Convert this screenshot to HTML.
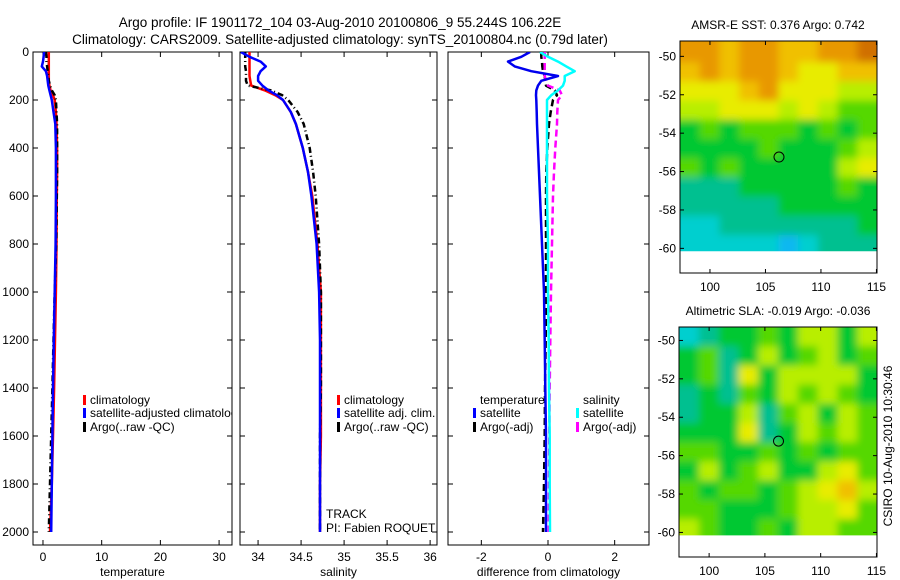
<!DOCTYPE html>
<html><head><meta charset="utf-8"><style>
body{margin:0;background:#fff;}
svg{display:block;font-family:"Liberation Sans",sans-serif;}
</style></head><body>
<svg id="c" width="900" height="580" xmlns="http://www.w3.org/2000/svg">
<defs><filter id="soft" x="-5%" y="-5%" width="110%" height="110%"><feGaussianBlur stdDeviation="4"/></filter></defs>
<text x="340" y="27" font-size="13.5" text-anchor="middle">Argo profile: IF 1901172_104 03-Aug-2010 20100806_9 55.244S 106.22E</text>
<text x="340" y="44" font-size="13.5" text-anchor="middle">Climatology: CARS2009. Satellite-adjusted climatology: synTS_20100804.nc (0.79d later)</text>
<text x="778" y="29" font-size="12" text-anchor="middle">AMSR-E SST: 0.376 Argo: 0.742</text>
<text x="778" y="315" font-size="12" text-anchor="middle">Altimetric SLA: -0.019 Argo: -0.036</text>
<text transform="translate(892,446) rotate(-90)" font-size="12" text-anchor="middle">CSIRO 10-Aug-2010 10:30:46</text>
</svg>
<script>
// ---- data ----
const depths=[0,20,40,60,80,100,120,140,160,180,200,250,300,400,500,600,800,1000,1200,1400,1600,1800,2000];
const tempClim=[1.0,1.0,1.0,1.0,1.0,1.0,1.0,1.1,1.3,1.7,2.0,2.2,2.3,2.4,2.4,2.35,2.3,2.2,2.05,1.9,1.7,1.5,1.2];
const tempArgo=[0.5,0.6,0.6,0.7,0.8,0.9,1.0,1.2,1.5,2.0,2.2,2.3,2.4,2.4,2.4,2.35,2.25,2.0,1.8,1.6,1.4,1.2,1.0];
const tempSat=[0.2,0.1,0.0,-0.2,0.5,0.7,0.8,0.9,1.1,1.3,1.5,1.8,2.1,2.2,2.2,2.2,2.15,2.0,1.85,1.7,1.6,1.5,1.4];
const salClim=[33.9,33.9,33.9,33.9,33.9,33.9,33.91,33.92,34.08,34.2,34.29,34.38,34.44,34.52,34.58,34.63,34.69,34.73,34.73,34.73,34.73,34.72,34.72];
const salArgo=[33.85,33.85,33.85,33.85,33.86,33.86,33.86,33.88,34.15,34.28,34.35,34.46,34.53,34.6,34.64,34.67,34.71,34.73,34.73,34.73,34.72,34.72,34.72];
const salSat=[33.8,33.9,34.03,34.09,34.03,34.0,34.0,34.05,34.12,34.22,34.29,34.38,34.44,34.52,34.58,34.62,34.68,34.71,34.72,34.72,34.72,34.72,34.72];
const diffTSat=[-0.54,-0.8,-1.2,-1.0,-0.5,0.3,-0.2,-0.3,-0.35,-0.36,-0.35,-0.34,-0.33,-0.3,-0.27,-0.24,-0.18,-0.12,-0.1,-0.08,-0.06,-0.06,-0.06];
const diffSSat=[-0.24,0.0,0.3,0.55,0.8,0.5,0.5,0.45,0.3,0.1,-0.03,-0.03,-0.03,-0.03,-0.03,-0.03,0.0,0.0,0.02,0.03,0.05,0.05,0.06];
const diffTArgo=[-0.2,-0.2,-0.18,-0.17,-0.15,-0.1,-0.08,-0.06,0.2,0.27,0.15,0.08,0.03,-0.02,-0.05,-0.06,-0.06,-0.06,-0.07,-0.09,-0.1,-0.12,-0.15];
const diffSArgo=[-0.1,-0.1,-0.1,-0.1,-0.1,-0.1,-0.05,0.0,0.35,0.42,0.3,0.28,0.27,0.22,0.18,0.15,0.12,0.09,0.07,0.05,0.04,0.03,0.02];
const depthTicks=[0,200,400,600,800,1000,1200,1400,1600,1800,2000];
const tempTicks=[0,10,20,30];
const salTicks=[34,34.5,35,35.5,36];
const salTickLabels=["34","34.5","35","35.5","36"];
const diffTicks=[-2,0,2];
const latTicks=[-50,-52,-54,-56,-58,-60];
const lonTicks=[100,105,110,115];
const sstGrid=[
[8,8,7,8,8,7,7,8,8,9],
[7,8,7,8,8,7,6,6,7,7],
[6,6,6,7,8,6,6,6,5,5],
[5,5,6,6,6,5,6,5,4,4],
[3,4,3,4,4,4,3,4,3,4],
[3,3,3,3,4,3,3,3,4,5],
[4,3,4,3,3,3,3,3,5,6],
[2,2,2,3,3,3,3,3,4,3],
[2,2,2,2,2,3,3,3,3,3],
[1,1,2,2,2,2,2,2,2,3],
[1,1,1,1,1,0,1,2,2,2]];
const slaGrid=[
[1,2,3,3,4,3,5,5,3,5],
[3,4,2,3,5,3,4,5,3,4],
[3,4,2,6,3,5,5,5,5,3],
[2,3,2,4,3,5,4,5,4,3],
[2,3,3,5,2,4,5,3,5,4],
[3,3,3,6,2,3,5,4,5,4],
[4,4,3,3,4,3,4,3,4,4],
[3,5,3,4,5,3,3,5,6,4],
[4,3,4,4,3,4,5,6,7,5],
[4,4,3,3,3,4,5,5,6,4],
[5,4,3,3,4,3,5,5,4,4]];
const argoLon=106.22, argoLat=-55.244;
const palette=["#10b8f0","#00cfcf","#00c090","#00c830","#55d800","#b8ee00","#e8ec00","#f0c000","#e89800","#d07000"];

// ---- drawing ----
const svg=document.getElementById('c');
const NS='http://www.w3.org/2000/svg';
function mk(tag,attrs,parent){const e=document.createElementNS(NS,tag);for(const k in attrs)e.setAttribute(k,attrs[k]);(parent||svg).appendChild(e);return e;}
const yTop=52,yBot=545;
function yD(d){return 52+d*0.24;}
function axisPanel(name,x0,x1,xmin,xmax,ticks,labels,xlabel,showY){
  const g=mk('g',{});
  
  
  const xs=v=>x0+(v-xmin)/(xmax-xmin)*(x1-x0);
  const clipId=name+'-clip';
  const cp=mk('clipPath',{id:clipId},g);mk('rect',{x:x0,y:yTop,width:x1-x0,height:yBot-yTop},cp);
  ticks.forEach((t,i)=>{
    const x=xs(t);
    mk('line',{x1:x,y1:yBot,x2:x,y2:yBot-5,stroke:'#000'},g);
    mk('line',{x1:x,y1:yTop,x2:x,y2:yTop+5,stroke:'#000'},g);
    const tx=mk('text',{x:x,y:yBot+16,'font-size':12,'text-anchor':'middle'},g);
    tx.textContent=labels[i];
    
    
  });
  depthTicks.forEach(d=>{
    const y=yD(d);
    mk('line',{x1:x0,y1:y,x2:x0+5,y2:y,stroke:'#000'},g);
    mk('line',{x1:x1,y1:y,x2:x1-5,y2:y,stroke:'#000'},g);
    if(showY){const tx=mk('text',{x:x0-4,y:y+4,'font-size':12,'text-anchor':'end'},g);tx.textContent=d;
      
      }
  });
  mk('rect',{x:x0,y:yTop,width:x1-x0,height:yBot-yTop,fill:'none',stroke:'#000'},g);
  const xl=mk('text',{x:(x0+x1)/2,y:yBot+31,'font-size':12,'text-anchor':'middle'},g);xl.textContent=xlabel;
  
  
  return {g,xs,clipId};
}
function line(P,vals,color,w,dash,name){
  const pts=vals.map((v,i)=>P.xs(v).toFixed(1)+','+yD(depths[i]).toFixed(1)).join(' ');
  const a={points:pts,fill:'none',stroke:color,'stroke-width':w,'clip-path':'url(#'+P.clipId+')','stroke-linejoin':'round'};
  if(dash)a['stroke-dasharray']=dash;
  const l=mk('polyline',a,P.g);
  
  
}
function legend(P,x,y,color,txt,name){
  mk('rect',{x:x-3,y:y-9,width:3,height:10,fill:color},P.g);
  const t=mk('text',{x:x+4,y:y,'font-size':12,'clip-path':'url(#'+P.clipId+')'},P.g);t.textContent=txt;
  
  
}
const P1=axisPanel('temperature-panel',33,232,-1.7,32.2,tempTicks,tempTicks.map(String),'temperature',true);
line(P1,tempClim,'#f00',2.5,null,'temp-climatology-line');
line(P1,tempArgo,'#000',2.5,'6,3,1,3','temp-argo-line');
line(P1,tempSat,'#00f',2.5,null,'temp-satellite-line');
legend(P1,86,404,'#f00','climatology','legend-climatology');
legend(P1,86,417,'#00f','satellite-adjusted climatology','legend-satellite');
legend(P1,86,431,'#000','Argo(..raw -QC)','legend-argo');
const P2=axisPanel('salinity-panel',240,437,33.79,36.08,salTicks,salTickLabels,'salinity',false);
line(P2,salClim,'#f00',2.5,null,'sal-climatology-line');
line(P2,salArgo,'#000',2.5,'6,3,1,3','sal-argo-line');
line(P2,salSat,'#00f',2.5,null,'sal-satellite-line');
legend(P2,340,404,'#f00','climatology','legend-climatology');
legend(P2,340,417,'#00f','satellite adj. clim.','legend-satellite');
legend(P2,340,431,'#000','Argo(..raw -QC)','legend-argo');
let t=mk('text',{x:326,y:518,'font-size':12},P2.g);t.textContent='TRACK';


t=mk('text',{x:326,y:532,'font-size':12},P2.g);t.textContent='PI: Fabien ROQUET';


const P3=axisPanel('difference-panel',448,649,-3.0,3.03,diffTicks,diffTicks.map(String),'difference from climatology',false);
line(P3,diffTArgo,'#000',2.5,'7,4','diff-temp-argo-line');
line(P3,diffSArgo,'#f0f',2.5,'7,4','diff-sal-argo-line');
line(P3,diffSSat,'#0ff',2.5,null,'diff-sal-satellite-line');
line(P3,diffTSat,'#00e',2.5,null,'diff-temp-satellite-line');
t=mk('text',{x:480,y:404,'font-size':12},P3.g);t.textContent='temperature';


t=mk('text',{x:583,y:404,'font-size':12},P3.g);t.textContent='salinity';


legend(P3,476,417,'#00f','satellite','legend-temp-satellite');
legend(P3,476,431,'#000','Argo(-adj)','legend-temp-argo');
legend(P3,579,417,'#0ff','satellite','legend-sal-satellite');
legend(P3,579,431,'#f0f','Argo(-adj)','legend-sal-argo');

function map(name,x0,x1,y0,y1,latTop,grid){
  const g=mk('g',{});
  
  
  const lonMin=97.3,lonMax=115.05;
  const xs=v=>x0+(v-lonMin)/(lonMax-lonMin)*(x1-x0);
  const ys=v=>y0+(latTop-v)*19.2;
  const nC=grid[0].length;
  const dataBot=ys(-60.15);
  const clipId=name+'-clip';
  const cp=mk('clipPath',{id:clipId},g);mk('rect',{x:x0,y:y0,width:x1-x0,height:dataBot-y0},cp);
  const outer=mk('g',{'clip-path':'url(#'+clipId+')'},g);
  const inner=mk('g',{filter:'url(#soft)'},outer);
  grid.forEach((row,r)=>row.forEach((v,c)=>{
    const top=r===0?y0-10:ys(-49.3-r);
    const bot=r===grid.length-1?dataBot+10:ys(-49.3-r-1);
    const lo0=lonMin+c*(lonMax-lonMin)/nC, lo1=lonMin+(c+1)*(lonMax-lonMin)/nC;
    const xa=c===0?xs(lo0)-10:xs(lo0), xb=c===nC-1?xs(lo1)+10:xs(lo1);
    const cell=mk('rect',{x:xa,y:top,width:xb-xa+0.5,height:bot-top+0.5,fill:palette[v]},inner);
    
    
  }));
  latTicks.forEach(l=>{const y=ys(l);
    mk('line',{x1:x0,y1:y,x2:x0+4,y2:y,stroke:'#000'},g);
    mk('line',{x1:x1,y1:y,x2:x1-4,y2:y,stroke:'#000'},g);
    const tx=mk('text',{x:x0-4,y:y+4,'font-size':12,'text-anchor':'end'},g);tx.textContent=l;
    
    });
  lonTicks.forEach(l=>{const x=xs(l);
    mk('line',{x1:x,y1:y1,x2:x,y2:y1-4,stroke:'#000'},g);
    mk('line',{x1:x,y1:y0,x2:x,y2:y0+4,stroke:'#000'},g);
    const tx=mk('text',{x:x,y:y1+18,'font-size':12,'text-anchor':'middle'},g);tx.textContent=l;
    
    });
  mk('rect',{x:x0,y:y0,width:x1-x0,height:y1-y0,fill:'none',stroke:'#000'},g);
  const c=mk('circle',{cx:xs(argoLon),cy:ys(argoLat),r:5,fill:'none',stroke:'#000'},g);
  
  
}
map('sst-map',680,877,41,273,-49.2,sstGrid);
map('sla-map',679,877,327,557,-49.3,slaGrid);
</script>
</body></html>
